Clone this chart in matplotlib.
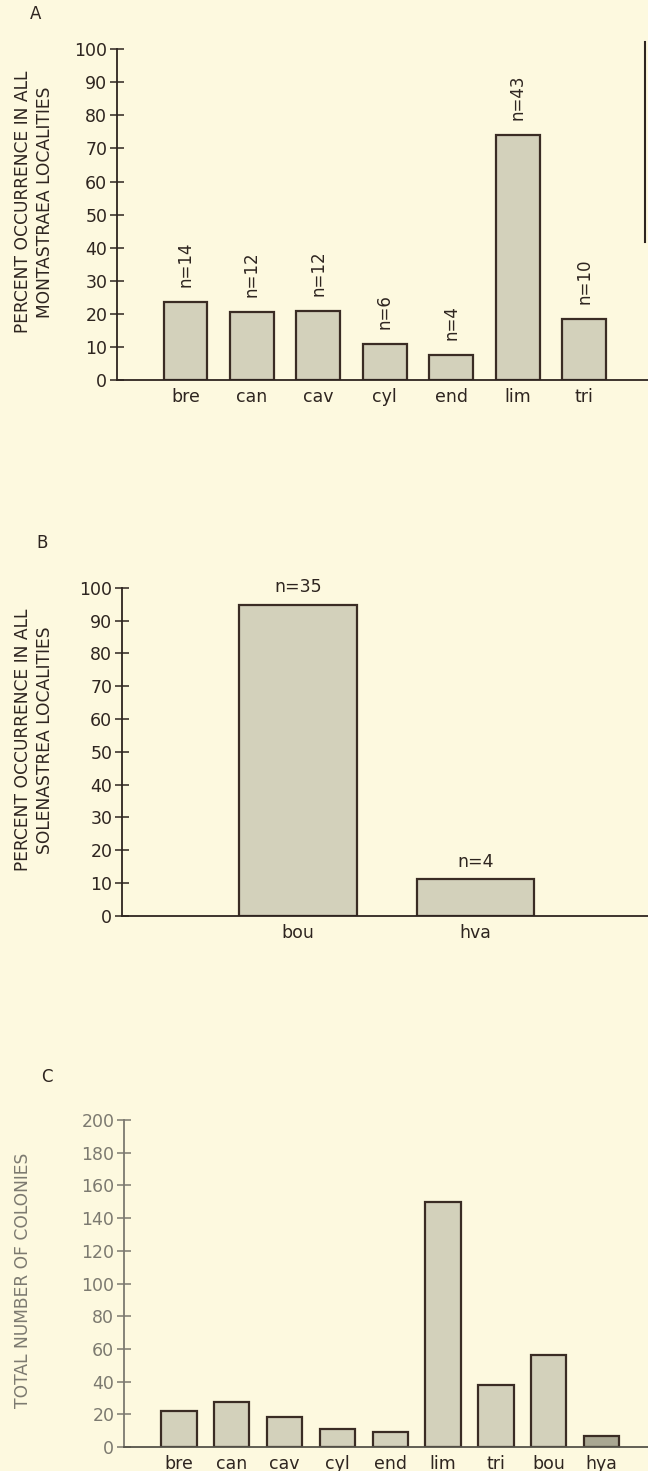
import matplotlib
matplotlib.use("Agg")
import matplotlib.pyplot as plt
from matplotlib.lines import Line2D

# ---- data ----
cats_a = ["bre", "can", "cav", "cyl", "end", "lim", "tri"]
vals_a = [23.6, 20.6, 20.8, 10.8, 7.5, 74.2, 18.4]
n_a = ["n=14", "n=12", "n=12", "n=6", "n=4", "n=43", "n=10"]

cats_b = ["bou", "hva"]
vals_b = [94.9, 11.2]
n_b = ["n=35", "n=4"]

cats_c = ["bre", "can", "cav", "cyl", "end", "lim", "tri", "bou", "hya"]
vals_c = [22, 27.7, 18.5, 11, 9, 150, 38, 56.5, 6.7]

yticks_pct = list(range(0, 101, 10))
yticks_cnt = list(range(0, 201, 20))

# ---- style ----
BG = "#fdf9df"
BAR = "#d3d1bb"
EDGE = "#3a2c24"
INK = "#2e2520"
GRAY = "#7c7a70"
FONT = ["DejaVu Sans"]
plt.rcParams["font.family"] = FONT

fig = plt.figure(figsize=(6.48, 14.71), dpi=100, facecolor=BG)


def style_axes(ax, color, ylim, yticks):
    ax.set_facecolor("none")
    for s in ("top", "right"):
        ax.spines[s].set_visible(False)
    for s in ("left", "bottom"):
        ax.spines[s].set_color(color)
        ax.spines[s].set_linewidth(1.3)
    ax.set_ylim(*ylim)
    ax.set_yticks(yticks)
    ax.tick_params(axis="y", direction="inout", length=10, width=1.1,
                   colors=color, labelsize=12.5, pad=2)
    ax.tick_params(axis="x", length=0, labelsize=12.5, pad=6, colors=color)
    for lab in ax.get_yticklabels():
        lab.set_color(color)


# ---- Panel A ----
axA = fig.add_axes([0.1806, 0.7417, 0.8194, 0.2248])
xa = list(range(len(cats_a)))
axA.bar(xa, vals_a, width=0.66, color=BAR, edgecolor=EDGE, linewidth=1.6)
axA.set_xlim(-1.03, 6.96)
axA.set_xticks(xa)
axA.set_xticklabels(cats_a)
style_axes(axA, INK, (0, 100), yticks_pct)
for x, v, t in zip(xa, vals_a, n_a):
    axA.text(x, v + 4.5, t, rotation=90, ha="center", va="bottom",
             fontsize=12, color=INK)
fig.text(0.053, 1 - 202 / 1471, "PERCENT OCCURRENCE IN ALL\nMONTASTRAEA LOCALITIES",
         rotation=90, ha="center", va="center", fontsize=12.3, color=INK,
         linespacing=1.3)
fig.text(36 / 648, 1 - 14 / 1471, "A", ha="center", va="center",
         fontsize=12, color=INK)
# clipped edge of neighbouring figure
fig.add_artist(Line2D([645 / 648, 645 / 648], [1 - 42 / 1471, 1 - 242 / 1471],
                      color=INK, linewidth=1.5, transform=fig.transFigure))

# ---- Panel B ----
axB = fig.add_axes([0.1883, 0.3776, 0.8117, 0.2227])
xb = list(range(len(cats_b)))
axB.bar(xb, vals_b, width=0.66, color=BAR, edgecolor=EDGE, linewidth=1.6)
axB.set_xlim(-0.99, 1.97)
axB.set_xticks(xb)
axB.set_xticklabels(cats_b)
style_axes(axB, INK, (0, 100), yticks_pct)
for x, v, t in zip(xb, vals_b, n_b):
    axB.text(x, v + 2.5, t, ha="center", va="bottom", fontsize=12.5, color=INK)
fig.text(0.052, 1 - 740 / 1471, "PERCENT OCCURRENCE IN ALL\nSOLENASTREA LOCALITIES",
         rotation=90, ha="center", va="center", fontsize=12.3, color=INK,
         linespacing=1.3)
fig.text(42 / 648, 1 - 543 / 1471, "B", ha="center", va="center",
         fontsize=12, color=INK)

# ---- Panel C ----
axC = fig.add_axes([0.1914, 0.0163, 0.8086, 0.2223])
xc = list(range(len(cats_c)))
fills = [BAR] * len(cats_c)
fills[-1] = "#a9a792"
axC.bar(xc, vals_c, width=0.67, color=fills, edgecolor=EDGE, linewidth=1.6)
axC.set_xlim(-1.04, 8.88)
axC.set_xticks(xc)
axC.set_xticklabels(cats_c)
style_axes(axC, GRAY, (0, 200), yticks_cnt)
axC.spines["bottom"].set_color("#55534a")
for lab in axC.get_xticklabels():
    lab.set_color(INK)
fig.text(0.035, 1 - 1280 / 1471, "TOTAL NUMBER OF COLONIES",
         rotation=90, ha="center", va="center", fontsize=12.3, color=GRAY)
fig.text(47 / 648, 1 - 1077 / 1471, "C", ha="center", va="center",
         fontsize=12, color=INK)

fig.savefig("out.png", dpi=100, facecolor=BG)
